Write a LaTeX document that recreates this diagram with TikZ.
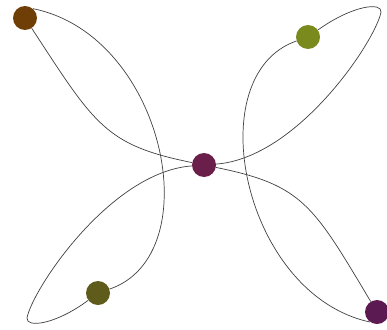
\documentclass[tikz,border=0pt]{standalone}
\usepackage{tikz}
\definecolor{dotbrown}{HTML}{6F3D06}
\definecolor{dotolive}{HTML}{7A8A1C}
\definecolor{dotmoss}{HTML}{5F5B1B}
\definecolor{dotplum}{HTML}{6A1E4A}
\definecolor{dotgrape}{HTML}{5C1A52}

\begin{document}
\begin{tikzpicture}[x=1pt,y=-1pt,
  dot/.style={circle,inner sep=0pt,minimum size=24pt},
  petal/.style={draw=black!75,line width=0.7pt}]
 \useasboundingbox (0,0) rectangle (387,329);
 \node[dot,fill=dotbrown] (tl) at (25,18) {};
 \node[dot,fill=dotolive] (tr) at (308,37) {};
 \node[dot,fill=dotplum] (hub) at (204,165) {};
 \node[dot,fill=dotmoss] (bl) at (98,293) {};
 \node[dot,fill=dotgrape] (br) at (377,312) {};
 \coordinate (bltip) at (27,318);
 \coordinate (trtip) at (381,12);
 % lines through the hub
 \draw[petal] (tl) .. controls (95,125) and (105,145) .. (hub);
 \draw[petal] (hub) .. controls (303,185) and (313,205) .. (br);
 \draw[petal] (hub) .. controls (110,172) and (32,290) .. (bltip)
   .. controls (26,328) and (55,325) .. (bl);
 \draw[petal] (hub) .. controls (298,158) and (376,40) .. (trtip)
   .. controls (382,2) and (353,5) .. (tr);
 % outer arcs
 \draw[petal] (tl.50) .. controls (165,35) and (210,255) .. (bl);
 \draw[petal] (br.235) .. controls (243,295) and (198,75) .. (tr);
\end{tikzpicture}
\end{document}
